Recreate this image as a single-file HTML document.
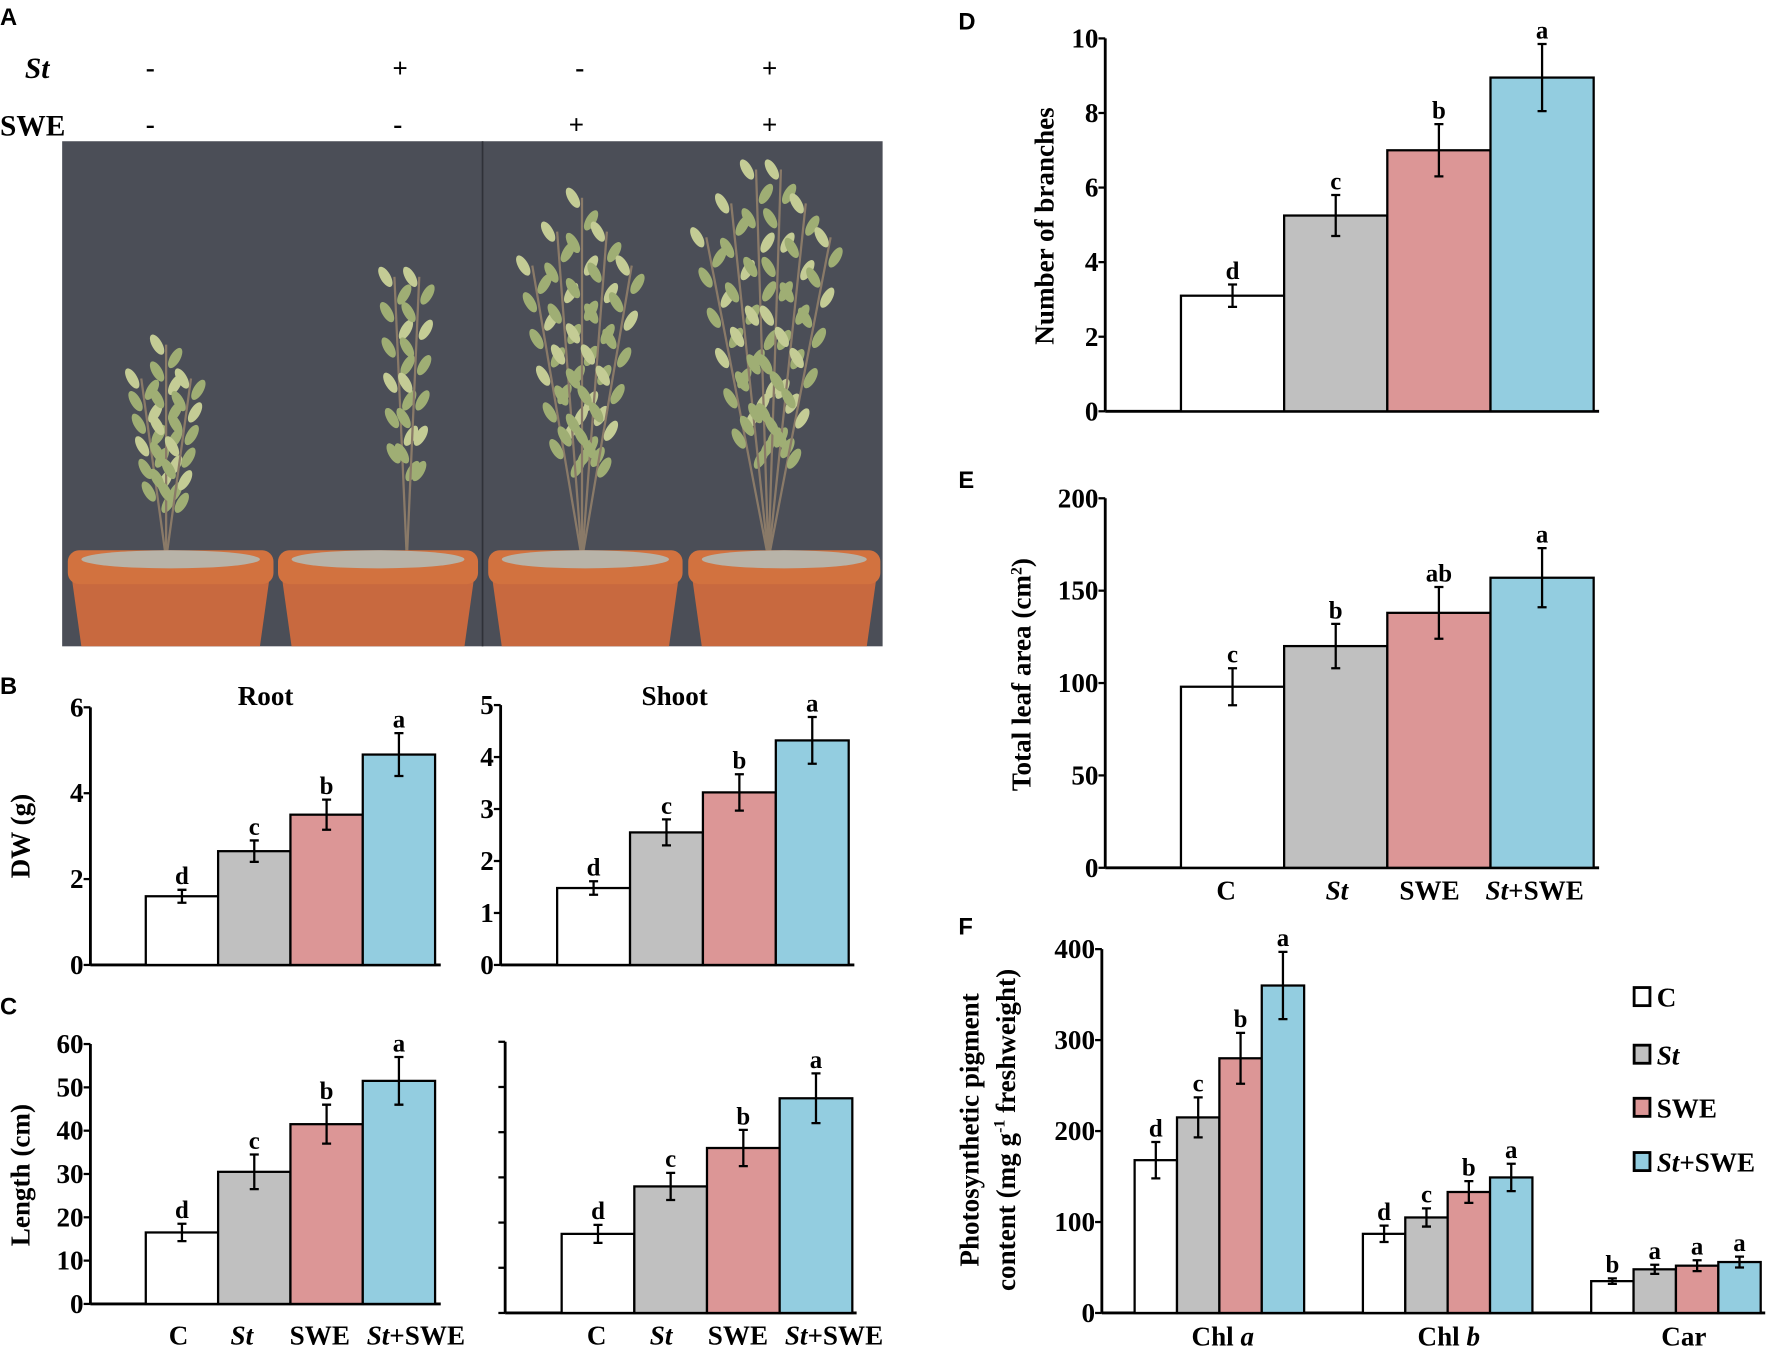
<!DOCTYPE html>
<html><head><meta charset="utf-8"><style>
html,body{margin:0;padding:0;background:#fff;}
svg{display:block;}
text{font-family:"Liberation Serif",serif;font-weight:bold;fill:#000;}
.pl{font-family:"Liberation Sans",sans-serif;font-size:21px;}
</style></head><body>
<svg id="fig" width="1772" height="1348" viewBox="0 0 1568 1193" preserveAspectRatio="none" xmlns="http://www.w3.org/2000/svg">
<defs><clipPath id="photoClip"><rect x="55" y="125" width="726" height="447"/></clipPath></defs>
<g>
<text class="pl" x="0" y="22">A</text>
<text x="22" y="69" font-size="26" font-style="italic">St</text>
<text x="0" y="120" font-size="26" font-weight="normal">SWE</text>
<g font-size="24" font-weight="normal" text-anchor="middle">
<text x="133" y="68">-</text><text x="354" y="68">+</text><text x="513" y="68">-</text><text x="681" y="68">+</text>
<text x="133" y="118">-</text><text x="352" y="118">-</text><text x="510" y="118">+</text><text x="681" y="118">+</text>
</g>
<rect x="55" y="125" width="726" height="447" fill="#4b4e57"/>
<line x1="427" y1="125" x2="427" y2="572" stroke="#2f3138" stroke-width="1.5"/>
<g id="plants" clip-path="url(#photoClip)"></g>
</g>
<g id="charts"></g>
</svg>
<script>
// ---- Data ----
const groups = ["C","St","SWE","St+SWE"];
const rootDW = [1.6,2.65,3.5,4.9];
const rootDWErr = [0.15,0.25,0.35,0.5];
const shootDW = [1.48,2.55,3.32,4.32];
const shootDWErr = [0.13,0.25,0.35,0.45];
const rootLen = [16.5,30.5,41.5,51.5];
const rootLenErr = [2,4,4.5,5.5];
const shootLen = [1.75,2.8,3.65,4.75];
const shootLenErr = [0.2,0.3,0.4,0.55];
const branches = [3.1,5.25,7.0,8.95];
const branchesErr = [0.3,0.55,0.7,0.9];
const leafArea = [98,120,138,157];
const leafAreaErr = [10,12,14,16];
const pigCats = ["Chl a","Chl b","Car"];
const chlA = [168,215,280,360];
const chlAErr = [20,22,28,37];
const chlB = [87,105,133,149];
const chlBErr = [9,10,12,15];
const car = [35,48,52,56];
const carErr = [3,5,6,6];
const lettersRootDW = ["d","c","b","a"];
const lettersShootDW = ["d","c","b","a"];
const lettersRootLen = ["d","c","b","a"];
const lettersShootLen = ["d","c","b","a"];
const lettersBranches = ["d","c","b","a"];
const lettersLeaf = ["c","b","ab","a"];
const lettersChlA = ["d","c","b","a"];
const lettersChlB = ["d","c","b","a"];
const lettersCar = ["b","a","a","a"];
const ticksDW6 = [0,2,4,6];
const ticksDW5 = [0,1,2,3,4,5];
const ticksLen = [0,10,20,30,40,50,60];
const ticksBr = [0,2,4,6,8,10];
const ticksLeaf = [0,50,100,150,200];
const ticksPig = [0,100,200,300,400];

const colors = ["#ffffff","#c0c0c0","#dc9696","#93cde0"];
const NS="http://www.w3.org/2000/svg";
const root=document.getElementById('charts');
function mk(tag,attrs,parent,txt){const e=document.createElementNS(NS,tag);for(const k in attrs)e.setAttribute(k,attrs[k]);if(txt!==undefined)e.textContent=txt;(parent||root).appendChild(e);return e;}

function chart(o){
  const g=mk('g',{});
  
  
  const y=v=>o.y0-(v-o.min)/(o.max-o.min)*(o.y0-o.y1);
  const ya=mk('line',{x1:o.ax,y1:o.y0,x2:o.ax,y2:o.y1,stroke:'#000','stroke-width':2.5},g);
  
  
  const xa=mk('line',{x1:o.ax,y1:o.y0,x2:o.xend,y2:o.y0,stroke:'#000','stroke-width':2.5},g);
  
  
  o.ticks.forEach(t=>{
    mk('line',{x1:o.ax-6,y1:y(t),x2:o.ax,y2:y(t),stroke:'#000','stroke-width':2},g);
    if(o.tickLabels!==false){
      const tl=mk('text',{x:o.ax-6,y:y(t)+8,'font-size':o.fs||24,'text-anchor':'end'},g,String(t));
      
      
    }
  });
  o.series.forEach((s,si)=>{
    s.vals.forEach((v,i)=>{
      const x=s.x0+i*o.bw;
      const r=mk('rect',{x:x,y:y(v),width:o.bw,height:o.y0-y(v),fill:colors[i],stroke:'#000','stroke-width':2},g);
      
      
      const cx=x+o.bw/2, e=s.err[i];
      const eb=mk('path',{d:`M${cx},${y(v+e)}V${y(v-e)}M${cx-4},${y(v+e)}h8M${cx-4},${y(v-e)}h8`,stroke:'#000','stroke-width':2,fill:'none'},g);
      
      
      const lt=mk('text',{x:cx,y:y(v+e)-5,'font-size':o.lfs||22,'text-anchor':'middle'},g,s.letters[i]);
      
      
    });
  });
  return g;
}
function ylabel(x,y,txt,fs,name){const t=mk('text',{x:x,y:y,'font-size':fs,'text-anchor':'middle',transform:`rotate(-90 ${x} ${y})`});t.innerHTML=txt;return t;}
function label(x,y,txt,fs,name,anchor){const t=mk('text',{x:x,y:y,'font-size':fs,'text-anchor':anchor||'middle'});t.innerHTML=txt;return t;}
function plabel(x,y,t,name){const e=mk('text',{x:x,y:y,class:'pl'},root,t);}
function xlabels(xs,y,name){const txt=["C","<tspan font-style='italic'>St</tspan>","SWE","<tspan font-style='italic'>St</tspan>+SWE"];xs.forEach((x,i)=>label(x,y,txt[i],24,name));}

plabel(0,614,'B','panel-label-b');
chart({name:'root-dw-chart',ax:80,y0:854,y1:626,min:0,max:6,ticks:ticksDW6,xend:390,bw:64,series:[{key:'root-dw',x0:129,vals:rootDW,err:rootDWErr,letters:lettersRootDW}]});
label(235,624,'Root',24,'root-title');
ylabel(26,740,'DW (g)',24,'dw-y-axis-title');
chart({name:'shoot-dw-chart',ax:443,y0:854,y1:624,min:0,max:5,ticks:ticksDW5,xend:756,bw:64.5,series:[{key:'shoot-dw',x0:493,vals:shootDW,err:shootDWErr,letters:lettersShootDW}]});
label(597,624,'Shoot',24,'shoot-title');
plabel(0,898,'C','panel-label-c');
chart({name:'root-length-chart',ax:80,y0:1154,y1:924,min:0,max:60,ticks:ticksLen,xend:390,bw:64,series:[{key:'root-length',x0:129,vals:rootLen,err:rootLenErr,letters:lettersRootLen}]});
ylabel(26,1040,'Length (cm)',24,'length-y-axis-title');
chart({name:'shoot-length-chart',ax:447,y0:1162,y1:922,min:0,max:6,ticks:ticksDW6.concat([1,3,5]),tickLabels:false,xend:758,bw:64.3,series:[{key:'shoot-length',x0:497,vals:shootLen,err:shootLenErr,letters:lettersShootLen}]});
xlabels([158,214,283,368],1190,'x-tick-label');
xlabels([528,585,653,738],1190,'x-tick-label');
plabel(848,26,'D','panel-label-d');
chart({name:'branches-chart',ax:978,y0:364,y1:34,min:0,max:10,ticks:ticksBr,xend:1415,bw:91.3,series:[{key:'branches',x0:1045,vals:branches,err:branchesErr,letters:lettersBranches}]});
ylabel(932,200,'Number  of branches',24,'branches-y-axis-title');
plabel(848,432,'E','panel-label-e');
chart({name:'leaf-area-chart',ax:978,y0:768,y1:441,min:0,max:200,ticks:ticksLeaf,xend:1415,bw:91.3,series:[{key:'leaf-area',x0:1045,vals:leafArea,err:leafAreaErr,letters:lettersLeaf}]});
ylabel(912,597,'Total leaf area (cm<tspan font-size="14" dy="-8">2</tspan><tspan dy="8">)</tspan>',24,'leaf-area-y-axis-title');
xlabels([1085,1183,1265,1358],796,'x-tick-label');
plabel(848,827,'F','panel-label-f');
chart({name:'pigment-chart',ax:975,y0:1162,y1:840,min:0,max:400,ticks:ticksPig,xend:1562,bw:37.5,fs:24,series:[
 {key:'chl-a',x0:1004,vals:chlA,err:chlAErr,letters:lettersChlA},
 {key:'chl-b',x0:1206,vals:chlB,err:chlBErr,letters:lettersChlB},
 {key:'car',x0:1408,vals:car,err:carErr,letters:lettersCar}]});
ylabel(866,1000,'Photosynthetic  pigment',24,'pigment-y-axis-title-1');
ylabel(898,1000,'content  (mg  g<tspan font-size="14" dy="-9">-1</tspan><tspan dy="9"> freshweight)</tspan>',24,'pigment-y-axis-title-2');
label(1082,1191,'Chl <tspan font-style="italic">a</tspan>',24,'x-tick-label');
label(1282,1191,'Chl <tspan font-style="italic">b</tspan>',24,'x-tick-label');
label(1490,1191,'Car',24,'x-tick-label');
const legTxt=["C","<tspan font-style='italic'>St</tspan>","SWE","<tspan font-style='italic'>St</tspan>+SWE"];
[884,935,982,1030].forEach((ly,i)=>{
  const r=mk('rect',{x:1446,y:ly-10,width:14,height:16,fill:colors[i],stroke:'#000','stroke-width':2.5});
  
  
  label(1466,ly+7,legTxt[i],24,'legend-entry','start');
});

// plants (decorative)
const pg=document.getElementById('plants');
const pots=[[58,244],[244,425],[430,606],[607,781]];
const plants=[[147,305,3],[360,230,2],[515,175,5],[680,135,6]];
plants.forEach(([cx,top,n])=>{
  for(let k=0;k<n;k++){
    const off=(k-(n-1)/2)*10;
    const tx=cx+off*2.2, ty=top+Math.abs(off)*3;
    mk('line',{x1:cx,y1:495,x2:tx,y2:ty,stroke:'#8a7a68','stroke-width':2},pg);
    for(let j=0;j<12;j++){
      const t=j/12, lx=cx+(tx-cx)*(1-t*0.8)+((j%2)?8:-8), ly=ty+(495-ty)*t*0.75;
      mk('ellipse',{cx:lx,cy:ly,rx:4.5,ry:10,fill:(j%3)?'#9fae74':'#c4cc95',transform:`rotate(${(j%2)?30:-30} ${lx} ${ly})`},pg);
    }
  }
});
pots.forEach(p=>{
  const [a,b]=p;
  mk('path',{d:`M${a+6},515L${a+14},572H${b-14}L${b-6},515Z`,fill:'#c8693f'},pg);
  mk('rect',{x:a+2,y:487,width:b-a-4,height:30,rx:10,fill:'#d2723f'},pg);
  mk('ellipse',{cx:(a+b)/2,cy:495,rx:(b-a)/2-14,ry:8,fill:'#b8b3a8'},pg);
});
</script>
</body></html>
